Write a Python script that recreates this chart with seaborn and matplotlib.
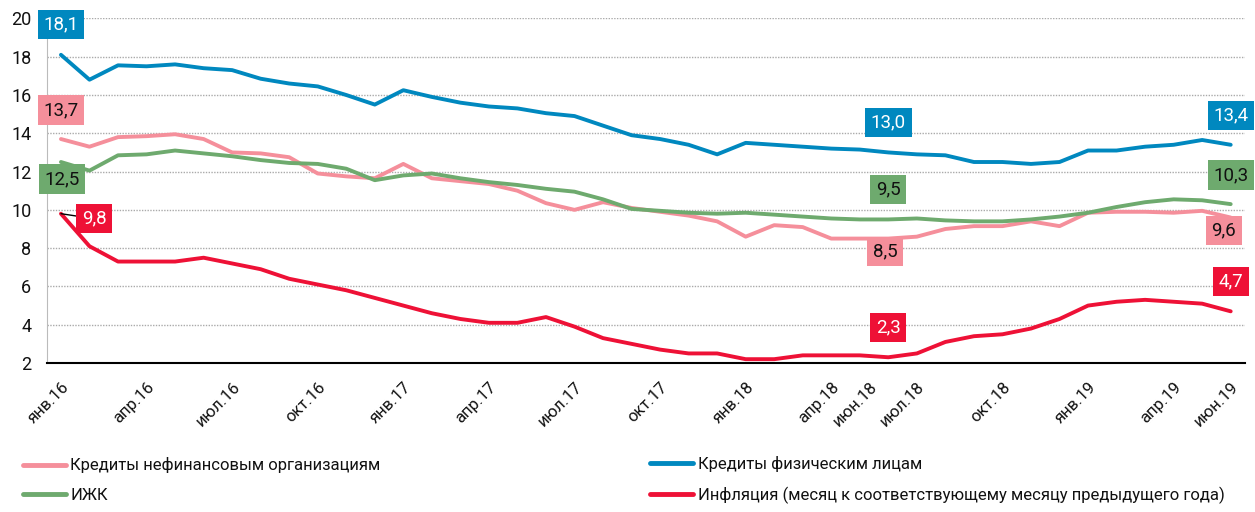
import numpy as np
import pandas as pd
import matplotlib
matplotlib.use("Agg")
import matplotlib.pyplot as plt
import matplotlib.transforms as mtransforms
import seaborn as sns

# Monthly data, Jan 2016 - Jun 2019 (42 months), % y/y
months = list(range(42))

corp_loans = [13.7, 13.3, 13.8, 13.85, 13.95, 13.7, 13.0, 12.95, 12.75, 11.9, 11.75,
              11.65, 12.4, 11.65, 11.5, 11.35, 11.0, 10.35, 10.0, 10.4, 10.1,
              9.9, 9.7, 9.4, 8.6, 9.2, 9.1, 8.5, 8.5, 8.5, 8.6,
              9.0, 9.15, 9.15, 9.4, 9.15, 9.85, 9.9, 9.9, 9.85, 9.95, 9.6]

retail_loans = [18.1, 16.8, 17.55, 17.5, 17.6, 17.4, 17.3, 16.85, 16.6, 16.45, 16.0,
                15.5, 16.25, 15.9, 15.6, 15.4, 15.3, 15.05, 14.9, 14.4, 13.9,
                13.7, 13.4, 12.9, 13.5, 13.4, 13.3, 13.2, 13.15, 13.0, 12.9,
                12.85, 12.5, 12.5, 12.4, 12.5, 13.1, 13.1, 13.3, 13.4, 13.65, 13.4]

mortgage = [12.5, 12.05, 12.85, 12.9, 13.1, 12.95, 12.8, 12.6, 12.45, 12.4, 12.15,
            11.55, 11.8, 11.9, 11.65, 11.45, 11.3, 11.1, 10.95, 10.55, 10.05,
            9.95, 9.85, 9.8, 9.85, 9.75, 9.65, 9.55, 9.5, 9.5, 9.55,
            9.45, 9.4, 9.4, 9.5, 9.65, 9.85, 10.15, 10.4, 10.55, 10.5, 10.3]

inflation = [9.8, 8.1, 7.3, 7.3, 7.3, 7.5, 7.2, 6.9, 6.4, 6.1, 5.8, 5.4,
             5.0, 4.6, 4.3, 4.1, 4.1, 4.4, 3.9, 3.3, 3.0, 2.7, 2.5, 2.5,
             2.2, 2.2, 2.4, 2.4, 2.4, 2.3, 2.5, 3.1, 3.4, 3.5, 3.8, 4.3,
             5.0, 5.2, 5.3, 5.2, 5.1, 4.7]

tick_months = [0, 3, 6, 9, 12, 15, 18, 21, 24, 27, 29, 30, 33, 36, 39, 41]
tick_labels = ["янв.16", "апр.16", "июл.16", "окт.16", "янв.17", "апр.17", "июл.17",
               "окт.17", "янв.18", "апр.18", "июн.18", "июл.18", "окт.18", "янв.19",
               "апр.19", "июн.19"]

series_names = ["Кредиты нефинансовым организациям", "ИЖК",
                "Кредиты физическим лицам",
                "Инфляция (месяц к соответствующему месяцу предыдущего года)"]
series_values = [corp_loans, mortgage, retail_loans, inflation]
colors = ["#F58F9B", "#6EAA6E", "#0088BF", "#EE1136"]

# labelled points: (series index, month)
labelled = [(2, 0), (0, 0), (1, 0), (3, 0),
            (2, 29), (1, 29), (0, 29), (3, 29),
            (2, 41), (1, 41), (0, 41), (3, 41)]

sns.set_style("white")
plt.rcParams["font.family"] = ["Roboto", "DejaVu Sans"]

fig = plt.figure(figsize=(12.55, 5.12), dpi=100)
ax = fig.add_axes([0.0372, 0.291, 0.9548, 0.673])

handles = []
for name, vals, col in zip(series_names, series_values, colors):
    sns.lineplot(x=months, y=vals, color=col, lw=2.8, ax=ax, label=name, legend=False)
    handles.append(ax.lines[-1])

# axes styling
ax.set_xlim(-0.5, 41.5)
ax.set_ylim(2, 20)
ax.set_yticks(np.arange(2, 21, 2))
ax.yaxis.grid(True, color="#aaaaaa", linestyle=(0, (1, 1)), lw=1)
ax.tick_params(axis="y", length=7, color="#bbbbbb", labelsize=13, labelcolor="#111111", pad=4)
ax.set_xticks(tick_months)
ax.set_xticklabels(tick_labels, rotation=45, ha="right", rotation_mode="anchor",
                   fontsize=12, color="#111111")
ax.tick_params(axis="x", which="major", length=0, pad=12)
ax.set_xticks(np.arange(-0.5, 42, 3), minor=True)
ax.tick_params(axis="x", which="minor", length=6, color="#bbbbbb", width=1.2)
for lab in ax.get_xticklabels():
    if lab.get_text() == "июн.18":
        lab.set_transform(lab.get_transform() + mtransforms.ScaledTranslation(-0.19, 0, fig.dpi_scale_trans))
for s in ["top", "right"]:
    ax.spines[s].set_visible(False)
ax.spines["left"].set_color("#bbbbbb")
ax.spines["bottom"].set_color("black")
ax.spines["bottom"].set_linewidth(1.5)
ax.set_xlabel("")
ax.set_ylabel("")

# value boxes
offsets = {(2, 0): (0, 30), (0, 0): (0, 29), (1, 0): (1, -17), (3, 0): (33, -5),
           (2, 29): (0, 30), (1, 29): (0, 30), (0, 29): (-3, -13), (3, 29): (0, 30),
           (2, 41): (0, 29), (1, 41): (0, 29), (0, 41): (-7, -13), (3, 41): (0, 30)}
for si, m in labelled:
    v = series_values[si][m]
    txt = f"{v:.1f}".replace(".", ",")
    tc = "white" if si in (2, 3) else "#111111"
    arrow = dict(arrowstyle="-", color="black", lw=1, shrinkA=0, shrinkB=0) if (si, m) == (3, 0) else None
    ax.annotate(txt, xy=(m, v), xytext=offsets[(si, m)], textcoords="offset pixels",
                ha="center", va="center", fontsize=13.5, color=tc, zorder=5,
                bbox=dict(boxstyle="square,pad=0.3", fc=colors[si], ec="none"),
                arrowprops=arrow)

# legends
leg_kw = dict(loc="center left", frameon=False, fontsize=12, handlelength=2.6,
              handletextpad=0.25, labelspacing=0.85, borderpad=0, borderaxespad=0)
leg1 = fig.legend(handles[:2], series_names[:2], bbox_to_anchor=(0.018, 0.0625), **leg_kw)
leg2 = fig.legend(handles[2:], series_names[2:], bbox_to_anchor=(0.518, 0.0625), **leg_kw)
for leg in (leg1, leg2):
    for h in leg.legend_handles:
        h.set_linewidth(3.5)
    for t in leg.get_texts():
        t.set_color("#111111")

plt.savefig("out.png", dpi=100)
plt.close()
